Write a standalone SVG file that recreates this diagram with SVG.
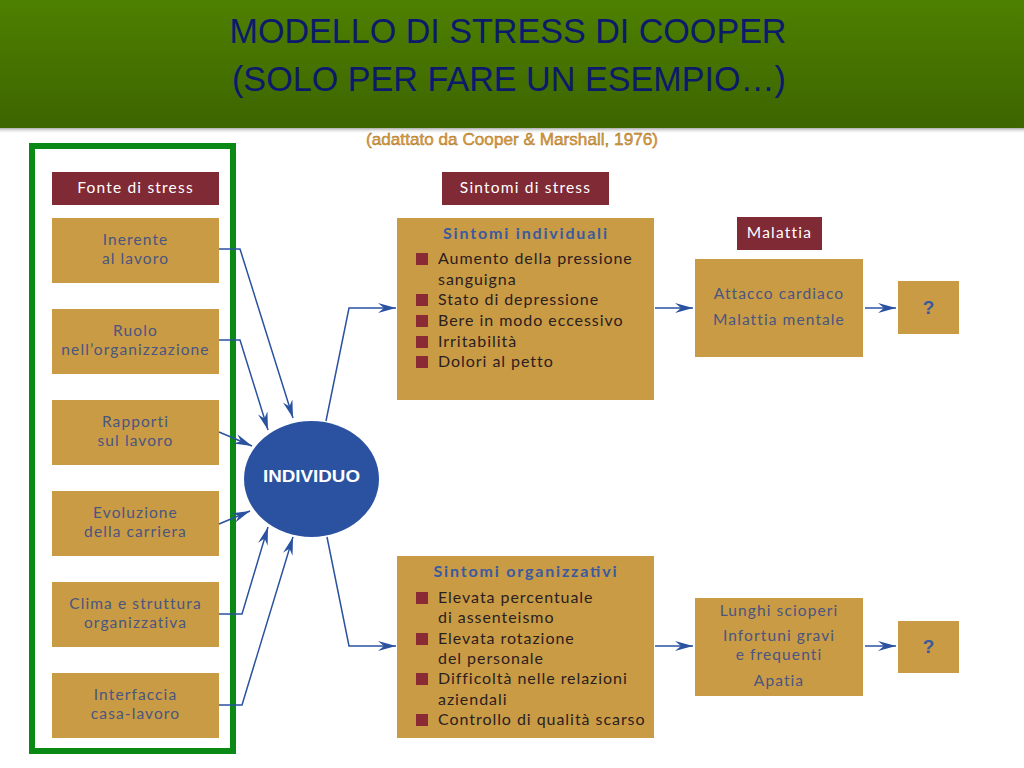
<svg xmlns="http://www.w3.org/2000/svg" width="1024" height="768" viewBox="0 0 1024 768">
<defs>
<linearGradient id="hdr" x1="0" y1="0" x2="0" y2="1">
<stop offset="0" stop-color="#4e8000"/>
<stop offset="1" stop-color="#3d6500"/>
</linearGradient>
<linearGradient id="shd" x1="0" y1="0" x2="0" y2="1">
<stop offset="0" stop-color="#888" stop-opacity="0.7"/>
<stop offset="1" stop-color="#fff" stop-opacity="0"/>
</linearGradient>
<marker id="arr" viewBox="0 0 18 10" markerWidth="18" markerHeight="10" markerUnits="userSpaceOnUse" refX="18" refY="5" orient="auto">
<path d="M0,0 L18,5 L0,10 L6,5 Z" fill="#2a52a0"/>
</marker>
<style>
.gold{fill:#c99b45}
.hd{fill:#7f2a35}
.hdt{fill:#fff;font-family:Lato,"Open Sans",sans-serif;font-size:15.5px;letter-spacing:1.2px;text-anchor:middle}
.bt{fill:#4a5580;font-family:Lato,"Open Sans",sans-serif;font-size:15.5px;letter-spacing:1.1px;text-anchor:middle}
.st{fill:#3a5aa0;font-family:Lato,"Open Sans",sans-serif;font-size:16px;font-weight:bold;text-anchor:middle}
.it{fill:#2b2020;font-family:Lato,"Open Sans",sans-serif;font-size:16px;letter-spacing:0.95px}
.bul{fill:#8a2a35}
.conn{fill:none;stroke:#2a52a0;stroke-width:1.5}
</style>
</defs>
<rect width="1024" height="768" fill="#fff"/>
<g id="header">
<rect x="0" y="128" width="1024" height="6" fill="url(#shd)"/>
<rect x="0" y="0" width="1024" height="128" fill="url(#hdr)"/>
<text x="508" y="43" font-family="Liberation Sans, Arial, sans-serif" font-size="35" fill="#0b1a6a" text-anchor="middle" textLength="557" lengthAdjust="spacingAndGlyphs">MODELLO DI STRESS DI COOPER</text>
<text x="509" y="91" font-family="Liberation Sans, Arial, sans-serif" font-size="35" fill="#0b1a6a" text-anchor="middle" textLength="554" lengthAdjust="spacingAndGlyphs">(SOLO PER FARE UN ESEMPIO…)</text>
<text x="512" y="145" font-family="Liberation Sans, Arial, sans-serif" font-size="17" fill="#e0a040" stroke="#a06a20" stroke-width="0.4" text-anchor="middle" textLength="292" lengthAdjust="spacingAndGlyphs">(adattato da Cooper &amp; Marshall, 1976)</text>
</g>
<rect id="frame" x="32" y="146" width="201" height="605" fill="none" stroke="#0a8a14" stroke-width="6"/>
<g id="fonte-header"><rect class="hd" x="52" y="172" width="167" height="33"/><text class="hdt" x="135.5" y="193">Fonte di stress</text></g>
<g id="src1"><rect class="gold" x="52" y="218" width="167" height="65"/><text class="bt" x="135.5" y="245">Inerente</text><text class="bt" x="135.5" y="264">al lavoro</text></g>
<g id="src2"><rect class="gold" x="52" y="309" width="167" height="65"/><text class="bt" x="135.5" y="336">Ruolo</text><text class="bt" x="135.5" y="355">nell’organizzazione</text></g>
<g id="src3"><rect class="gold" x="52" y="400" width="167" height="65"/><text class="bt" x="135.5" y="427">Rapporti</text><text class="bt" x="135.5" y="446">sul lavoro</text></g>
<g id="src4"><rect class="gold" x="52" y="491" width="167" height="65"/><text class="bt" x="135.5" y="518">Evoluzione</text><text class="bt" x="135.5" y="537">della carriera</text></g>
<g id="src5"><rect class="gold" x="52" y="582" width="167" height="65"/><text class="bt" x="135.5" y="609">Clima e struttura</text><text class="bt" x="135.5" y="628">organizzativa</text></g>
<g id="src6"><rect class="gold" x="52" y="673" width="167" height="65"/><text class="bt" x="135.5" y="700">Interfaccia</text><text class="bt" x="135.5" y="719">casa-lavoro</text></g>
<g id="individuo"><ellipse cx="311.5" cy="479" rx="67.5" ry="58" fill="#2a52a0"/><text x="311.5" y="482" font-family="Liberation Sans, Arial, sans-serif" font-size="16" font-weight="bold" fill="#fff" text-anchor="middle" textLength="97" lengthAdjust="spacingAndGlyphs">INDIVIDUO</text></g>
<g id="sintomi-header"><rect class="hd" x="442" y="172" width="167" height="33"/><text class="hdt" x="525.5" y="193">Sintomi di stress</text></g>
<g id="sint-ind"><rect class="gold" x="397" y="218" width="257" height="182"/>
<text class="st" x="525" y="239" textLength="164">Sintomi individuali</text>
<rect class="bul" x="416" y="253" width="12" height="12"/><text class="it" x="438" y="264">Aumento della pressione</text>
<text class="it" x="438" y="285">sanguigna</text>
<rect class="bul" x="416" y="294" width="12" height="12"/><text class="it" x="438" y="305">Stato di depressione</text>
<rect class="bul" x="416" y="315" width="12" height="12"/><text class="it" x="438" y="326">Bere in modo eccessivo</text>
<rect class="bul" x="416" y="336" width="12" height="12"/><text class="it" x="438" y="347">Irritabilità</text>
<rect class="bul" x="416" y="356" width="12" height="12"/><text class="it" x="438" y="367">Dolori al petto</text>
</g>
<g id="sint-org"><rect class="gold" x="397" y="556" width="257" height="182"/>
<text class="st" x="525" y="577" textLength="183">Sintomi organizzativi</text>
<rect class="bul" x="416" y="592" width="12" height="12"/><text class="it" x="438" y="603">Elevata percentuale</text>
<text class="it" x="438" y="623">di assenteismo</text>
<rect class="bul" x="416" y="633" width="12" height="12"/><text class="it" x="438" y="644">Elevata rotazione</text>
<text class="it" x="438" y="664">del personale</text>
<rect class="bul" x="416" y="673" width="12" height="12"/><text class="it" x="438" y="684">Difficoltà nelle relazioni</text>
<text class="it" x="438" y="705">aziendali</text>
<rect class="bul" x="416" y="714" width="12" height="12"/><text class="it" x="438" y="725">Controllo di qualità scarso</text>
</g>
<g id="malattia-header"><rect class="hd" x="737" y="217" width="85" height="33"/><text class="hdt" x="779.5" y="238">Malattia</text></g>
<g id="malattia"><rect class="gold" x="695" y="259" width="168" height="98"/><text class="bt" x="779" y="299">Attacco cardiaco</text><text class="bt" x="779" y="325">Malattia mentale</text></g>
<g id="q1"><rect class="gold" x="898" y="281" width="61" height="53"/><text x="928.5" y="314" font-family="Liberation Sans, Arial, sans-serif" font-size="19" font-weight="bold" fill="#3a5aa0" text-anchor="middle">?</text></g>
<g id="esiti-org"><rect class="gold" x="695" y="598" width="168" height="98"/><text class="bt" x="779" y="616">Lunghi scioperi</text><text class="bt" x="779" y="641">Infortuni gravi</text><text class="bt" x="779" y="660">e frequenti</text><text class="bt" x="779" y="686">Apatia</text></g>
<g id="q2"><rect class="gold" x="898" y="621" width="61" height="52"/><text x="928.5" y="653" font-family="Liberation Sans, Arial, sans-serif" font-size="19" font-weight="bold" fill="#3a5aa0" text-anchor="middle">?</text></g>
<g id="connectors">
<polyline class="conn" points="219,249 240,249 293,418" marker-end="url(#arr)"/>
<polyline class="conn" points="219,340 240,340 268,430" marker-end="url(#arr)"/>
<polyline class="conn" points="219,432 252,446" marker-end="url(#arr)"/>
<polyline class="conn" points="219,524 250,511" marker-end="url(#arr)"/>
<polyline class="conn" points="219,614 242,614 268,527" marker-end="url(#arr)"/>
<polyline class="conn" points="219,705 242,705 293,537" marker-end="url(#arr)"/>
<polyline class="conn" points="326,421 349,308 396,308" marker-end="url(#arr)"/>
<polyline class="conn" points="327,537 349,646 396,646" marker-end="url(#arr)"/>
<line class="conn" x1="655" y1="308" x2="693" y2="308" marker-end="url(#arr)"/>
<line class="conn" x1="865" y1="308" x2="896" y2="308" marker-end="url(#arr)"/>
<line class="conn" x1="655" y1="646" x2="693" y2="646" marker-end="url(#arr)"/>
<line class="conn" x1="865" y1="646" x2="896" y2="646" marker-end="url(#arr)"/>
</g>
</svg>
